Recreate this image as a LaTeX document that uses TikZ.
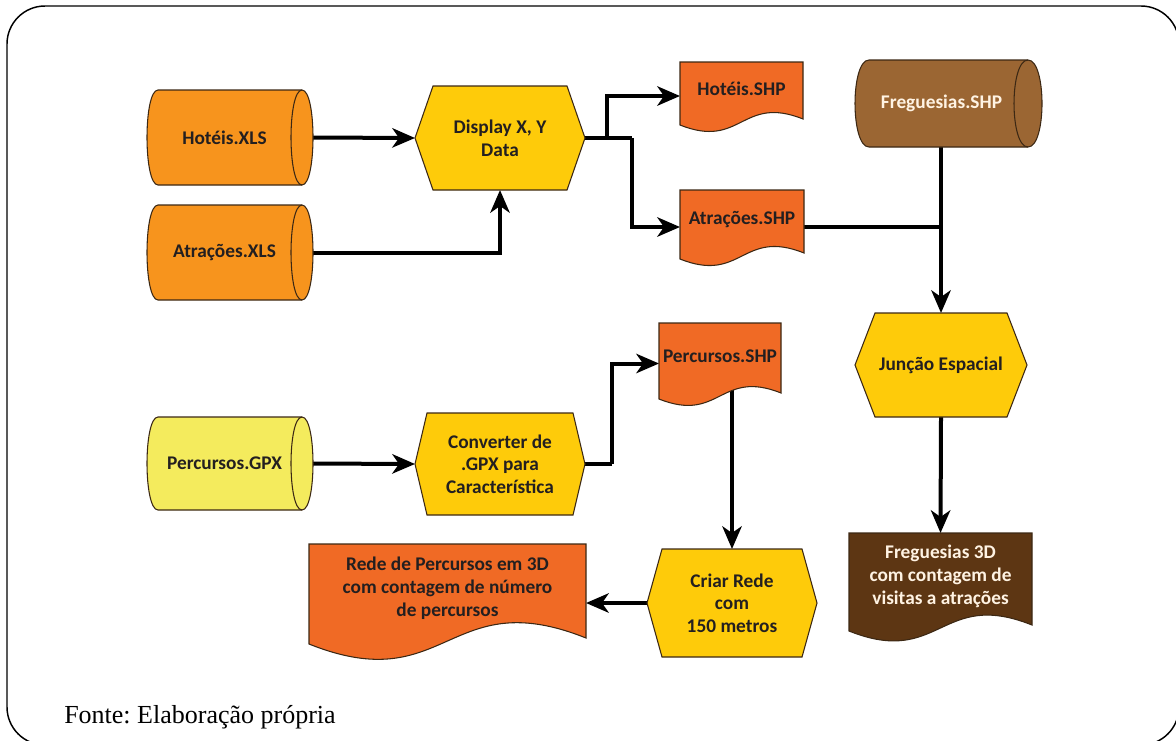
\documentclass[tikz,border=0pt]{standalone}
\usepackage{fontspec}
\setmainfont{Liberation Serif}
\newfontfamily\boxfont{Carlito}
\usetikzlibrary{arrows.meta}
\frenchspacing

\definecolor{cylorange}{HTML}{F7941D}
\definecolor{hexyellow}{HTML}{FECB0A}
\definecolor{docorange}{HTML}{F06A25}
\definecolor{paleyellow}{HTML}{F4EB5D}
\definecolor{cylbrown}{HTML}{9B6633}
\definecolor{docbrown}{HTML}{5D3613}
\definecolor{edgebrown}{HTML}{3C2814}
\definecolor{inkdark}{HTML}{231F20}
\definecolor{cream}{HTML}{FFF3E3}

\pgfdeclarelayer{back}
\pgfsetlayers{back,main}

\tikzset{
  outline/.style={draw=edgebrown, line width=0.8pt, line join=miter},
  boxtext/.style={font=\boxfont\bfseries\fontsize{14.5}{17}\selectfont,
    align=center, inner sep=0pt, text=inkdark},
  shapebox/.style={rectangle, draw=none, inner sep=0pt, outer sep=0pt},
  conn/.style={line width=3pt, draw=black, line join=miter},
  arr/.style={conn, -{Stealth[length=17pt, width=14.5pt, inset=5pt]}},
}

% hexagon: name, x0, top, x1, bottom, slant, text
\newcommand\hexbox[7]{%
  \draw[outline, fill=hexyellow] (#2,{(#3+#5)/2}) -- ({#2+#6},#3) -- ({#4-#6},#3)
    -- (#4,{(#3+#5)/2}) -- ({#4-#6},#5) -- ({#2+#6},#5) -- cycle;
  \node[shapebox, minimum width={(#4-#2)*0.75pt}, minimum height={(#5-#3)*0.75pt}]
    (#1) at ({(#2+#4)/2},{(#3+#5)/2}) {};
  \node[boxtext] at (#1.center) {#7};
}

% horizontal cylinder: name, x0, top, x1, bottom, end radius, fill, text colour, text
\newcommand\cylbox[9]{%
  \draw[outline, fill=#7] ({#2+#6},#3) -- ({#4-#6},#3)
    .. controls ({#4+0.333*#6},#3) and ({#4+0.333*#6},#5) .. ({#4-#6},#5)
    -- ({#2+#6},#5)
    .. controls ({#2-0.333*#6},#5) and ({#2-0.333*#6},#3) .. cycle;
  \draw[outline] ({#4-#6},#3) .. controls ({#4-2.333*#6},#3) and ({#4-2.333*#6},#5) .. ({#4-#6},#5);
  \node[shapebox, minimum width={(#4-#2)*0.75pt}, minimum height={(#5-#3)*0.75pt}]
    (#1) at ({(#2+#4)/2},{(#3+#5)/2}) {};
  \node[boxtext, text=#8] at ({(#2+#4-#6)/2},{(#3+#5)/2}) {#9};
}

% document with wavy bottom: name, x0, top, x1, right end of wave, fill, text colour, text
\newcommand\docbox[8]{%
  \draw[outline, fill=#6] (#2,#3) -- (#4,#3) -- (#4,#5)
    .. controls ({(#2+#4)/2},{#5-0.2*(#4-#2)}) and ({(#2+#4)/2},{#5+6+0.2*(#4-#2)})
    .. (#2,{#5+6}) -- cycle;
  \node[shapebox, minimum width={(#4-#2)*0.75pt}, minimum height={(#5+11-#3)*0.75pt}]
    (#1) at ({(#2+#4)/2},{(#3+#5+11)/2}) {};
  \node[boxtext, text=#7] at ({(#2+#4)/2},{#3+0.47*(#5-#3)}) {#8};
}

\begin{document}
\begin{tikzpicture}[x=0.75pt, y=-0.75pt]
  \useasboundingbox (0,0) rectangle (1176,740);

  % outer frame
  \draw[line width=1.1pt, rounded corners=28.5pt] (7,6) rectangle (1179,745);

  % data sources
  \cylbox{hxls}{147}{90}{313}{185}{11}{cylorange}{inkdark}{Hotéis.XLS}
  \cylbox{axls}{147}{205}{313}{300}{11}{cylorange}{inkdark}{Atrações.XLS}
  \cylbox{fshp}{855}{60}{1042}{147}{14}{cylbrown}{cream}{Freguesias.SHP}
  \cylbox{gpx}{147}{417}{313}{510}{11}{paleyellow}{inkdark}{Percursos.GPX}

  % processes
  \hexbox{disp}{415}{86}{585}{190}{18}{Display X, Y\\Data}
  \hexbox{junc}{855}{313}{1027}{417}{20}{Junção Espacial}
  \hexbox{conv}{415}{413}{585}{515}{12}{Converter de\\.GPX para\\Característica}
  \hexbox{criar}{647}{549}{817}{657}{15}{Criar Rede\\com\\150 metros}

  % outputs
  \docbox{hshp}{680}{62}{803}{119}{docorange}{inkdark}{Hotéis.SHP}
  \docbox{ashp}{680}{190}{804}{253}{docorange}{inkdark}{Atrações.SHP}
  \docbox{pshp}{659}{323}{781}{393}{docorange}{inkdark}{Percursos.SHP}
  \docbox{rede}{309}{544}{586}{638}{docorange}{inkdark}{Rede de Percursos em 3D\\com contagem de número\\de percursos}
  \docbox{fdd}{849}{533}{1032}{625}{docbrown}{cream}{Freguesias 3D\\com contagem de\\visitas a atrações}

  % source note
  \node[anchor=base west, inner sep=0pt, font=\fontsize{19.5}{22}\selectfont] (note)
    at (64,723) {Fonte: Elaboração própria};

  % junction points
  \coordinate (splitA) at (607,138);
  \coordinate (splitB) at (632,138);
  \coordinate (splitC) at (612,464);

  \begin{pgfonlayer}{back}
    \draw[arr] (hxls.east) -- (disp.west);
    \draw[arr] (axls.east) -| (disp.south);
    \draw[conn] (disp.east) -- (splitB);
    \draw[arr] (splitA) |- (hshp.west);
    \draw[arr] (splitB) |- (ashp.west);
    \draw[conn] (ashp.east) -- (ashp.east -| junc.north);
    \draw[arr] (fshp.south -| junc.north) -- (junc.north);
    \draw[arr] (junc.south) -- (fdd.north);
    \draw[arr] (gpx.east) -- (conv.west);
    \draw[conn] (conv.east) -- (splitC);
    \draw[arr] (splitC) |- (pshp.west);
    \draw[arr] (criar.north |- pshp.center) -- (criar.north);
    \draw[arr] (criar.west) -- (criar.west -| rede.east);
  \end{pgfonlayer}
\end{tikzpicture}
\end{document}
